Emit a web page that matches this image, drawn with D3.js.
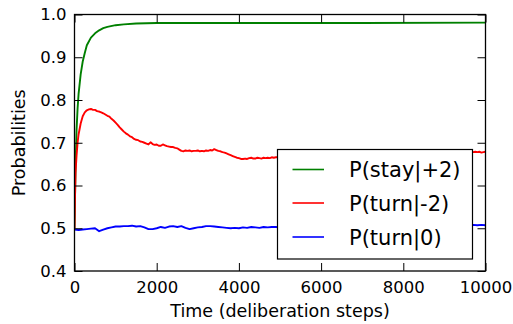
<!DOCTYPE html>
<html><head><meta charset="utf-8">
<script src="https://cdn.jsdelivr.net/npm/d3@7/dist/d3.min.js"></script>
<style>body{margin:0;background:#fff}svg{display:block}text{font-family:"DejaVu Sans",sans-serif;fill:#000}</style>
</head><body>
<svg id="c" width="513" height="324"></svg>
<script>
const xTicks = [0, 2000, 4000, 6000, 8000, 10000];
const yTicks = [0.4, 0.5, 0.6, 0.7, 0.8, 0.9, 1.0];
const seriesNames = ["P(stay|+2)", "P(turn|-2)", "P(turn|0)"];
const seriesColors = ["#008000", "#ff0000", "#0000ff"];

const greenT = [0,10,25,50,75,100,150,200,250,300,400,500,600,700,800,1000,1200,1500,2000,3000,5000,7000,10000];
const greenV = [0.5,0.56,0.64,0.73,0.78,0.815,0.86,0.89,0.91,0.928,0.946,0.956,0.963,0.968,0.971,0.975,0.977,0.979,0.98,0.98,0.98,0.98,0.981];

const redT = [0,10,25,50,75,100,150,200,250,300,350,400,450,500,550,600,650,700,750,800,850,900,950,1000,1050,1100,1150,1200,1250,1300,1350,1400,1450,1500,1550,1600,1650,1700,1750,1800,1850,1900,1950,2000,2050,2100,2150,2200,2250,2300,2350,2400,2450,2500,2550,2600,2650,2700,2750,2800,2850,2900,2950,3000,3050,3100,3150,3200,3250,3300,3350,3400,3450,3500,3550,3600,3650,3700,3750,3800,3850,3900,3950,4000,4050,4100,4150,4200,4250,4300,4350,4400,4450,4500,4550,4600,4650,4700,4750,4800,4850,4900,4950,5000,5200,5500,6000,6500,7000,7500,8000,8500,9000,9500,9700,9750,9800,9850,9900,9950,10000];
const redV = [0.5,0.56,0.63,0.67,0.70,0.72,0.745,0.762,0.771,0.776,0.778,0.779,0.777,0.777,0.774,0.773,0.771,0.769,0.766,0.763,0.761,0.756,0.752,0.747,0.742,0.736,0.731,0.726,0.722,0.719,0.715,0.713,0.709,0.707,0.706,0.703,0.702,0.700,0.698,0.696,0.701,0.697,0.695,0.696,0.693,0.693,0.696,0.694,0.692,0.691,0.690,0.690,0.688,0.687,0.684,0.681,0.680,0.682,0.681,0.682,0.680,0.681,0.681,0.682,0.680,0.681,0.680,0.682,0.681,0.683,0.682,0.685,0.683,0.681,0.680,0.678,0.677,0.675,0.673,0.671,0.669,0.667,0.665,0.664,0.662,0.662,0.663,0.662,0.664,0.665,0.663,0.663,0.665,0.664,0.663,0.665,0.664,0.665,0.664,0.666,0.665,0.666,0.666,0.667,0.668,0.670,0.671,0.673,0.672,0.674,0.675,0.676,0.677,0.678,0.678,0.679,0.678,0.679,0.677,0.678,0.679];

const blueT = [0,100,200,300,400,500,600,700,800,900,1000,1100,1200,1300,1400,1500,1600,1700,1800,1900,2000,2100,2200,2300,2400,2500,2600,2700,2800,2900,3000,3100,3200,3300,3400,3500,3600,3700,3800,3900,4000,4100,4200,4300,4400,4500,4600,4700,4800,4900,5000,5300,5600,6000,6500,7000,7500,8000,8500,9000,9500,9700,9800,9900,10000];
const blueV = [0.497,0.496,0.497,0.498,0.499,0.500,0.493,0.497,0.500,0.502,0.504,0.504,0.505,0.505,0.506,0.504,0.505,0.502,0.498,0.498,0.500,0.503,0.501,0.504,0.505,0.503,0.505,0.501,0.498,0.500,0.502,0.503,0.505,0.505,0.504,0.503,0.502,0.501,0.500,0.501,0.500,0.502,0.501,0.503,0.502,0.501,0.503,0.502,0.503,0.503,0.502,0.504,0.503,0.504,0.505,0.505,0.506,0.506,0.507,0.506,0.507,0.508,0.507,0.508,0.507];

const m = {left: 74.5, top: 14.5, right: 485.5, bottom: 271};
const svg = d3.select("#c");
const x = d3.scaleLinear().domain([0, 10000]).range([m.left, m.right]);
const y = d3.scaleLinear().domain([0.4, 1.0]).range([m.bottom, m.top]);

svg.append("clipPath").attr("id", "pc").append("rect")
  .attr("x", m.left).attr("y", m.top).attr("width", m.right - m.left).attr("height", m.bottom - m.top);

const series = [
  {t: greenT, v: greenV},
  {t: redT, v: redV},
  {t: blueT, v: blueV}
];
const line = d3.line().x(d => x(d[0])).y(d => y(d[1]));
const g = svg.append("g").attr("clip-path", "url(#pc)");
series.forEach((s, i) => {
  g.append("path").datum(s.t.map((t, j) => [t, s.v[j]]))
    .attr("d", line).attr("fill", "none")
    .attr("stroke", seriesColors[i]).attr("stroke-width", 1.9)
    .attr("stroke-linejoin", "round");
});

const tl = 8;
function styleAxis(sel, fs) {
  sel.select(".domain").remove();
  sel.selectAll(".tick line").attr("stroke", "#000").attr("stroke-width", 1);
  sel.selectAll("text").attr("font-size", fs).attr("fill", "#000").attr("font-family", "DejaVu Sans");
}
svg.append("g").attr("transform", `translate(0,${m.bottom})`)
  .call(d3.axisBottom(x).tickValues(xTicks).tickFormat(d3.format("d")).tickSizeInner(-tl).tickSizeOuter(0).tickPadding(10))
  .call(s => styleAxis(s, 16.5));
svg.append("g").attr("transform", `translate(0,${m.top})`)
  .call(d3.axisTop(x).tickValues(xTicks).tickFormat("").tickSizeInner(-tl).tickSizeOuter(0))
  .call(s => styleAxis(s, 16));
svg.append("g").attr("transform", `translate(${m.left},0)`)
  .call(d3.axisLeft(y).tickValues(yTicks).tickFormat(d3.format(".1f")).tickSizeInner(-tl).tickSizeOuter(0).tickPadding(8))
  .call(s => styleAxis(s, 16.5));
svg.append("g").attr("transform", `translate(${m.right},0)`)
  .call(d3.axisRight(y).tickValues(yTicks).tickFormat("").tickSizeInner(-tl).tickSizeOuter(0))
  .call(s => styleAxis(s, 16));

svg.append("rect").attr("x", m.left).attr("y", m.top)
  .attr("width", m.right - m.left).attr("height", m.bottom - m.top)
  .attr("fill", "none").attr("stroke", "#000").attr("stroke-width", 1.3);

svg.append("text").attr("x", (m.left + m.right) / 2).attr("y", 317)
  .attr("text-anchor", "middle").attr("font-size", 17.5).text("Time (deliberation steps)");
svg.append("text").attr("transform", `translate(25,${(m.top + m.bottom) / 2}) rotate(-90)`)
  .attr("text-anchor", "middle").attr("font-size", 17.5).text("Probabilities");

const lg = svg.append("g");
lg.append("rect").attr("x", 277.5).attr("y", 149.5).attr("width", 195).attr("height", 109.5)
  .attr("fill", "#fff").attr("stroke", "#000").attr("stroke-width", 1.2);
const rowsY = [169.5, 203, 237];
seriesNames.forEach((n, i) => {
  lg.append("line").attr("x1", 292.5).attr("x2", 324).attr("y1", rowsY[i]).attr("y2", rowsY[i])
    .attr("stroke", seriesColors[i]).attr("stroke-width", 1.6);
  lg.append("text").attr("x", 349).attr("y", rowsY[i]).attr("dy", "0.36em")
    .attr("font-size", 21).text(n);
});
</script>
</body></html>
